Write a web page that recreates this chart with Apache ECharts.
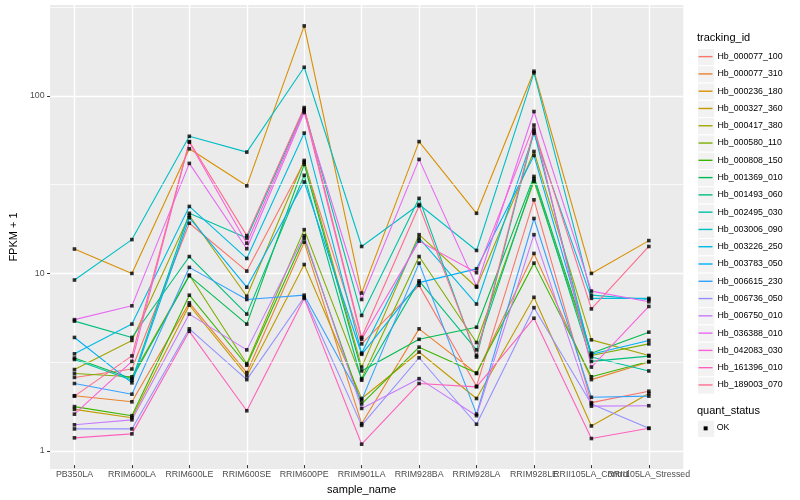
<!DOCTYPE html>
<html><head><meta charset="utf-8">
<script src="https://cdn.jsdelivr.net/npm/echarts@6/dist/echarts.min.js"></script>
<style>html,body{margin:0;padding:0;background:#fff}#c{width:800px;height:500px}</style>
</head><body><div id="c"></div>
<script>
// ---- data ----
const categories = ['PB350LA','RRIM600LA','RRIM600LE','RRIM600SE','RRIM600PE','RRIM901LA','RRIM928BA','RRIM928LA','RRIM928LE','RRII105LA_Control','RRII105LA_Stressed'];
const trackingIds = ['Hb_000077_100','Hb_000077_310','Hb_000236_180','Hb_000327_360','Hb_000417_380','Hb_000580_110','Hb_000808_150','Hb_001369_010','Hb_001493_060','Hb_002495_030','Hb_003006_090','Hb_003226_250','Hb_003783_050','Hb_006615_230','Hb_006736_050','Hb_006750_010','Hb_036388_010','Hb_042083_030','Hb_161396_010','Hb_189003_070'];
const lineColors = ['#F8766D','#EA8331','#D89000','#C09B00','#A3A500','#7CAE00','#39B600','#00BB4E','#00BF7D','#00C1A3','#00BFC4','#00BAE0','#00B0F6','#35A2FF','#9590FF','#C77CFF','#E76BF3','#FA62DB','#FF62BC','#FF6C91'];

const Hb_000077_100 = [2.49, 2.78, 18.7, 10.0, 41.6, 3.86, 8.3, 2.22, 25.4, 1.79, 2.08];
const Hb_000077_310 = [1.96, 1.81, 6.6, 2.65, 14.6, 1.36, 4.7, 2.62, 12.6, 2.42, 3.05];
const Hb_000236_180 = [13.35, 9.7, 49.5, 30.5, 246.9, 7.5, 54.4, 21.3, 136.5, 9.7, 14.9];
const Hb_000327_360 = [1.64, 1.47, 6.4, 2.54, 10.9, 1.89, 3.47, 1.89, 7.1, 1.32, 2.02];
const Hb_000417_380 = [2.76, 4.04, 20.7, 7.2, 42.5, 2.85, 16.1, 8.1, 47.8, 4.07, 3.32];
const Hb_000580_110 = [2.62, 2.51, 9.5, 2.98, 17.2, 2.45, 12.1, 3.93, 32.4, 3.32, 3.86];
const Hb_000808_150 = [1.70, 1.51, 7.3, 2.92, 15.4, 1.76, 3.7, 2.64, 11.1, 2.51, 3.07];
const Hb_001369_010 = [3.21, 2.45, 9.4, 5.0, 40.4, 2.71, 4.1, 4.8, 34.5, 3.42, 4.5];
const Hb_001493_060 = [5.2, 4.2, 12.1, 5.7, 35.0, 2.4, 8.8, 3.57, 33.5, 3.07, 3.29];
const Hb_002495_030 = [3.15, 2.40, 21.3, 15.4, 83.1, 5.6, 25.9, 3.25, 61.9, 3.25, 2.71];
const Hb_003006_090 = [8.9, 15.1, 58.3, 47.4, 143.8, 13.8, 23.9, 13.1, 133.7, 7.3, 6.9];
const Hb_003226_250 = [3.39, 5.0, 23.3, 11.8, 60.8, 3.42, 15.4, 6.5, 60.6, 7.0, 7.0];
const Hb_003783_050 = [4.2, 2.32, 20.1, 8.1, 32.1, 3.37, 8.6, 10.3, 45.4, 3.37, 4.04];
const Hb_006615_230 = [2.30, 2.0, 10.5, 6.9, 7.3, 1.85, 11.1, 1.54, 19.9, 1.92, 1.95];
const Hb_006736_050 = [1.27, 1.27, 4.7, 2.42, 7.1, 1.33, 3.22, 1.35, 6.2, 1.76, 1.28];
const Hb_006750_010 = [1.34, 1.43, 5.7, 3.57, 15.9, 1.66, 2.45, 1.51, 16.1, 1.71, 1.72];
const Hb_036388_010 = [5.3, 6.35, 40.9, 13.4, 79.6, 6.9, 43.1, 8.2, 80.6, 7.7, 6.7];
const Hb_042083_030 = [1.54, 3.07, 54.0, 14.4, 81.3, 4.1, 14.8, 9.8, 67.5, 2.85, 6.3];
const Hb_161396_010 = [1.13, 1.19, 4.55, 1.61, 7.0, 1.04, 2.3, 2.20, 5.4, 1.12, 1.28];
const Hb_189003_070 = [1.95, 3.3, 54.4, 15.9, 84.9, 4.2, 23.5, 3.32, 64.1, 6.1, 13.8];

const seriesValues = [Hb_000077_100, Hb_000077_310, Hb_000236_180, Hb_000327_360, Hb_000417_380, Hb_000580_110, Hb_000808_150, Hb_001369_010, Hb_001493_060, Hb_002495_030, Hb_003006_090, Hb_003226_250, Hb_003783_050, Hb_006615_230, Hb_006736_050, Hb_006750_010, Hb_036388_010, Hb_042083_030, Hb_161396_010, Hb_189003_070];

const yTickLabels = [1, 10, 100];
const yMinorBreaks = [3.1623, 31.623, 316.23];

// ---- layout ----
const FONT = "'Liberation Sans', Arial, sans-serif";
const PANEL_L = 40, PANEL_R = 683.3, PANEL_T = 5, PANEL_B = 469;
const step = (PANEL_R - PANEL_L) / (categories.length - 1 + 1.2);

const allVals = seriesValues.flat();
const lo = Math.log10(Math.min(...allVals)), hi = Math.log10(Math.max(...allVals));
const pad = 0.05 * (hi - lo);
const yMin = Math.pow(10, lo - pad), yMax = Math.pow(10, hi + pad);
const isYTick = v => yTickLabels.some(t => Math.abs(t - v) / t < 1e-6);

const lineSeries = seriesValues.map((vals, i) => ({
  name: trackingIds[i], type: 'line', xAxisIndex: 0, yAxisIndex: 0,
  data: vals, showSymbol: false, symbol: 'none', color: lineColors[i],
  lineStyle: { color: lineColors[i], width: 1.1 }, z: 2, animation: false, silent: true
}));

const pointData = [];
seriesValues.forEach(vals => vals.forEach((v, j) => pointData.push([categories[j], v])));

const KEY = 17.28, KEY_TOP = 48, KEY_LEFT = 697;
const graphics = [
  { type: 'text', left: KEY_LEFT, top: 32, style: { text: 'tracking_id', font: '11px ' + FONT, fill: '#000' } },
  { type: 'text', left: KEY_LEFT, top: 405, style: { text: 'quant_status', font: '11px ' + FONT, fill: '#000' } },
  { type: 'rect', left: KEY_LEFT, top: 419.7, shape: { width: KEY, height: KEY }, style: { fill: '#F2F2F2', stroke: '#fff', lineWidth: 1 } },
  { type: 'rect', left: KEY_LEFT + KEY / 2 - 2, top: 419.7 + KEY / 2 - 2, shape: { width: 4, height: 4 }, style: { fill: '#000' } },
  { type: 'text', left: 716.7, top: 423.5, style: { text: 'OK', font: '8.8px ' + FONT, fill: '#000' } }
];
trackingIds.forEach((id, i) => graphics.push({
  type: 'rect', left: KEY_LEFT, top: KEY_TOP + i * KEY, shape: { width: KEY, height: KEY },
  style: { fill: '#F2F2F2', stroke: '#fff', lineWidth: 1 }, z: -1
}));

const option = {
  animation: false,
  backgroundColor: '#fff',
  textStyle: { fontFamily: FONT },
  grid: [
    { left: PANEL_L + 0.6 * step, right: 800 - (PANEL_R - 0.6 * step), top: PANEL_T, bottom: 500 - PANEL_B, show: false },
    { left: PANEL_L, right: 800 - PANEL_R, top: PANEL_T, bottom: 500 - PANEL_B, show: true, backgroundColor: '#EBEBEB', borderWidth: 0 }
  ],
  xAxis: [
    { type: 'category', gridIndex: 0, data: categories, boundaryGap: false,
      axisLine: { show: false },
      axisTick: { show: true, length: 3, lineStyle: { color: '#333333', width: 1 }, interval: 0 },
      axisLabel: { interval: 0, hideOverlap: false, color: '#4D4D4D', fontSize: 8.8, margin: 5, fontFamily: FONT },
      splitLine: { show: true, interval: 0, lineStyle: { color: '#FFFFFF', width: 1.4 } },
      name: 'sample_name', nameLocation: 'middle', nameGap: 13,
      nameTextStyle: { color: '#000', fontSize: 11, fontFamily: FONT } },
    { type: 'value', gridIndex: 1, min: 0, max: 1, show: false }
  ],
  yAxis: [
    { type: 'log', gridIndex: 0, min: yMin, max: yMax, show: false },
    { type: 'log', gridIndex: 1, min: yMin, max: yMax,
      axisLine: { show: false },
      axisTick: { show: true, length: 3, lineStyle: { color: '#333333', width: 1 } },
      axisLabel: { color: '#4D4D4D', fontSize: 8.8, margin: 5.5, fontFamily: FONT, showMinLabel: false, showMaxLabel: false,
        formatter: v => isYTick(v) ? String(Math.round(v)) : '' },
      splitLine: { show: true, showMinLine: false, showMaxLine: false, lineStyle: { color: '#FFFFFF', width: 1.4 } },
      name: 'FPKM + 1', nameLocation: 'middle', nameGap: 23, nameRotate: 90,
      nameTextStyle: { color: '#000', fontSize: 11, fontFamily: FONT } }
  ],
  legend: {
    orient: 'vertical', left: 698.5, top: KEY_TOP, padding: 0, itemGap: 0,
    itemWidth: 14, itemHeight: 1.4, icon: 'rect', selectedMode: false,
    textStyle: { fontSize: 8.8, color: '#000', lineHeight: KEY, fontFamily: FONT },
    data: trackingIds.map((id, i) => ({ name: id, itemStyle: { color: lineColors[i] } }))
  },
  graphic: graphics,
  series: [
    { type: 'line', name: '_minor', xAxisIndex: 1, yAxisIndex: 1, data: [], z: 1, silent: true,
      markLine: { silent: true, symbol: 'none', animation: false, label: { show: false },
        lineStyle: { color: '#FFFFFF', width: 0.7, type: 'solid' },
        data: yMinorBreaks.map(v => ({ yAxis: v })) } },
    ...lineSeries,
    { type: 'scatter', name: 'OK', xAxisIndex: 0, yAxisIndex: 0, data: pointData,
      symbol: 'rect', symbolSize: 3.6, itemStyle: { color: '#000' }, z: 5, silent: true }
  ]
};
echarts.init(document.getElementById('c'), null, { renderer: 'canvas' }).setOption(option);
</script></body></html>
